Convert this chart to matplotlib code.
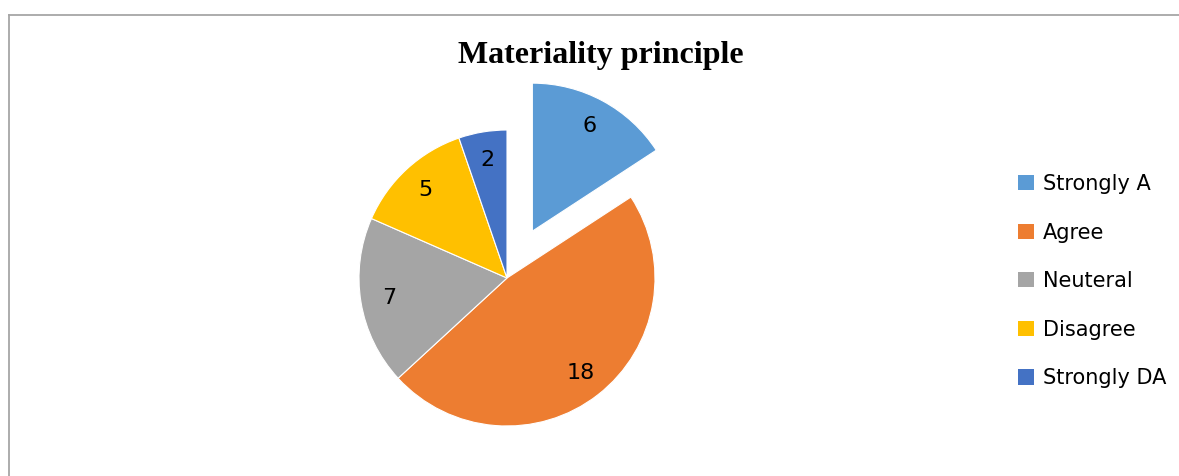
import matplotlib
matplotlib.use("Agg")
import matplotlib.pyplot as plt
from matplotlib.patches import Patch
from matplotlib.lines import Line2D

# ---- data ----
categories = ["Strongly A", "Agree", "Neuteral", "Disagree", "Strongly DA"]
counts = [6, 18, 7, 5, 2]
colors = ["#5B9BD5", "#ED7D31", "#A5A5A5", "#FFC000", "#4472C4"]
explode = [0.36, 0, 0, 0, 0]

W, H = 1179, 476
fig = plt.figure(figsize=(W / 100, H / 100), dpi=100)

# pie axes: centre at (507, 278) px, radius 148 px
cx, cy, R = 507, 278, 148
aw, ah = 420, 420
ax = fig.add_axes([(cx - aw / 2) / W, (H - cy - ah / 2) / H, aw / W, ah / H])
ax.pie(counts, colors=colors, explode=explode, startangle=90, counterclock=False,
       radius=1, autopct=lambda p: f"{p * sum(counts) / 100:.0f}", pctdistance=0.81,
       wedgeprops=dict(edgecolor="white", linewidth=0.8),
       textprops=dict(fontsize=16, color="black", family="DejaVu Sans"))
lim = aw / 2 / R
ax.set_xlim(-lim, lim)
ax.set_ylim(-lim, lim)
ax.axis("off")

# title
fig.text(601 / W, 1 - 56 / H, "Materiality principle", ha="center", va="center",
         fontsize=23, fontweight="bold", family="Liberation Serif")

# legend
handles = [Patch(facecolor=c, edgecolor="none") for c in colors]
fig.legend(handles, categories, loc="upper left", bbox_to_anchor=(1018 / W, 1 - 174 / H),
           frameon=False, fontsize=15, handlelength=0.75, handleheight=0.75,
           handletextpad=0.45, labelspacing=1.37, borderaxespad=0, borderpad=0)

# chart-area border (left and top edges visible)
bx, by = 9.5 / W, 1 - 14.5 / H
fig.add_artist(Line2D([bx, bx], [0, by], transform=fig.transFigure, color="#A6A6A6", lw=1.3))
fig.add_artist(Line2D([bx, 1], [by, by], transform=fig.transFigure, color="#A6A6A6", lw=1.3))

fig.savefig("out.png", dpi=100, facecolor="white")
